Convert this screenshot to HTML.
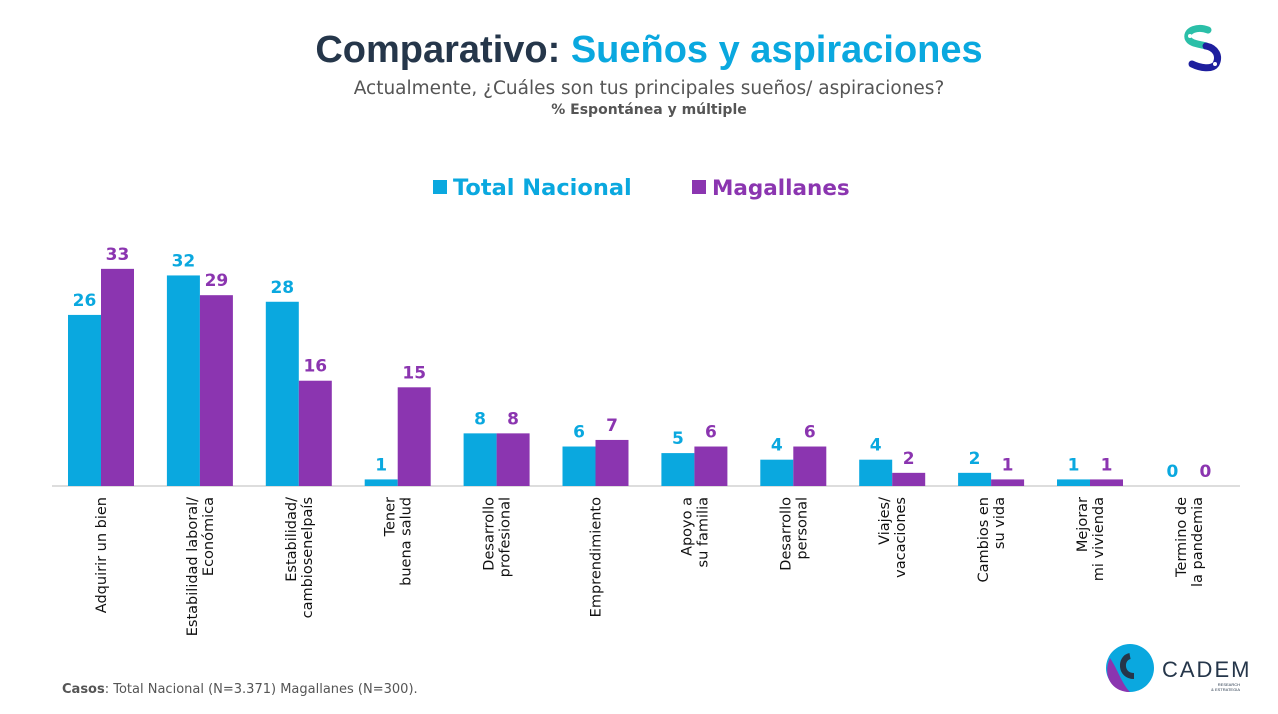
<!DOCTYPE html>
<html><head><meta charset="utf-8"><style>
body{margin:0;width:1278px;height:714px;background:#fff;font-family:"Liberation Sans","DejaVu Sans",sans-serif;overflow:hidden;position:relative}
.t{position:absolute;left:0;width:1298px;text-align:center}
</style></head><body>
<div class="t" style="top:29px;font-size:38px;font-weight:bold;color:#25364a">Comparativo: <span style="color:#0aa8df">Sueños y aspiraciones</span></div>
<div class="t" style="top:78px;font-size:18.5px;color:#555;font-family:'DejaVu Sans',sans-serif">Actualmente, ¿Cuáles son tus principales sueños/ aspiraciones?</div>
<div class="t" style="top:102px;font-size:14px;font-weight:bold;color:#555;font-family:'DejaVu Sans',sans-serif">% Espontánea y múltiple</div>
<svg style="position:absolute;left:1180px;top:22px" width="50" height="56" viewBox="0 0 50 56">
<path d="M28 8 C18 4 6 8 8 16 C10 22 20 22 26 24" stroke="#2bbfa8" stroke-width="7" fill="none" stroke-linecap="round"/>
<path d="M26 24 C36 26 40 34 36 42 C32 48 20 46 12 42" stroke="#1e1f9e" stroke-width="7" fill="none" stroke-linecap="round"/>
<circle cx="10" cy="14" r="2" fill="#fff"/><circle cx="35" cy="42" r="2" fill="#fff"/></svg>
<svg id="chart" style="position:absolute;left:0;top:0;font-family:'DejaVu Sans',sans-serif" width="1278" height="714"></svg>
<div style="position:absolute;left:62px;top:682px;font-size:13px;color:#555;font-family:'DejaVu Sans',sans-serif"><b>Casos</b>: Total Nacional (N=3.371) Magallanes (N=300).</div>
<svg style="position:absolute;left:1100px;top:640px" width="178" height="60">
<circle cx="30" cy="28" r="24" fill="#0aa8df"/><path d="M10 18 C2 36 12 52 30 52 C22 44 18 30 10 18Z" fill="#8b35b0"/>
<path d="M30 16 C20 18 20 36 34 36" stroke="#25364a" stroke-width="6" fill="none"/>
<text x="62" y="37" font-size="22" fill="#25364a" letter-spacing="2" font-family="Liberation Sans">CADEM</text>
<text x="140" y="46" font-size="4" fill="#25364a" text-anchor="end">RESEARCH</text>
<text x="140" y="51" font-size="4" fill="#25364a" text-anchor="end">&amp; ESTRATEGIA</text></svg>
<script>
const categories=[["Adquirir un bien"],["Estabilidad laboral/","Económica"],["Estabilidad/","cambiosenelpaís"],["Tener","buena salud"],["Desarrollo","profesional"],["Emprendimiento"],["Apoyo a","su familia"],["Desarrollo","personal"],["Viajes/","vacaciones"],["Cambios en","su vida"],["Mejorar","mi vivienda"],["Termino de","la pandemia"]];
const totalNacional=[26,32,28,1,8,6,5,4,4,2,1,0];
const magallanes=[33,29,16,15,8,7,6,6,2,1,1,0];
const seriesNames=["Total Nacional","Magallanes"];
const colors=["#0aa8df","#8b35b0"];
const NS="http://www.w3.org/2000/svg",svg=document.getElementById("chart");
const base=486,scale=6.58,x0=68,step=98.9,bw=33;
const y=v=>base-v*scale, xg=i=>x0+i*step;
function mk(t,a){const e=document.createElementNS(NS,t);for(const k in a)e.setAttribute(k,a[k]);svg.appendChild(e);return e;}
seriesNames.forEach((n,i)=>{const lx=i?692:433;
const r=mk("rect",{x:lx,y:180,width:14,height:14,fill:colors[i]});


const t=mk("text",{x:lx+20,y:195,"font-size":i?21.5:22.5,"font-weight":"bold",fill:colors[i]});t.textContent=n;

});
const ax=mk("line",{x1:52,x2:1240,y1:base,y2:base,stroke:"#bbb","stroke-width":1});


[totalNacional,magallanes].forEach((s,si)=>s.forEach((v,i)=>{
const bx=xg(i)+si*bw;
const r=mk("rect",{x:bx,y:y(v),width:bw,height:v*scale,fill:colors[si]});


const t=mk("text",{x:bx+bw/2,y:y(v)-9,"text-anchor":"middle","font-size":17,"font-weight":"bold",fill:colors[si]});t.textContent=v;


}));
categories.forEach((c,i)=>{const cx=xg(i)+bw;
const t=mk("text",{transform:`translate(${cx},497) rotate(-90)`,"text-anchor":"end","font-size":14.5,fill:"#111"});
c.forEach((l,j)=>{const ts=document.createElementNS(NS,"tspan");ts.setAttribute("x",0);ts.setAttribute("y",(j-(c.length-1)/2)*16+5);ts.textContent=l;t.appendChild(ts);});

});
</script>
</body></html>
